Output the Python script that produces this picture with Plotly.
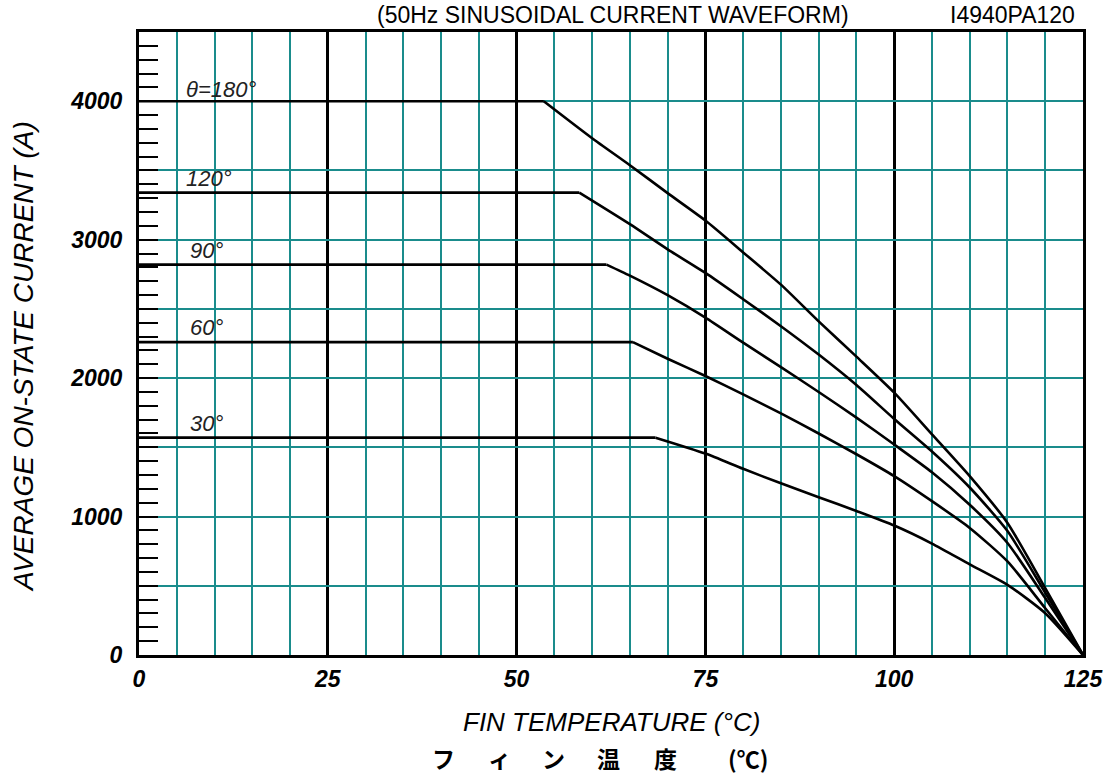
import plotly.graph_objects as go

# ---- data ----
temp_180 = [0, 53.6, 60, 65, 70, 75, 80, 85, 90, 95, 100, 105, 110, 115, 120, 125]
cur_180 = [4000, 4000, 3733, 3538, 3336, 3138, 2908, 2675, 2410, 2155, 1895, 1594, 1292, 954, 483, 0]

temp_120 = [0, 58.3, 65, 70, 75, 80, 85, 90, 95, 100, 105, 110, 115, 120, 125]
cur_120 = [3340, 3340, 3112, 2930, 2760, 2570, 2375, 2170, 1950, 1705, 1470, 1210, 895, 450, 0]

temp_90 = [0, 61.9, 65, 70, 75, 80, 85, 90, 95, 100, 105, 110, 115, 120, 125]
cur_90 = [2820, 2820, 2740, 2599, 2437, 2256, 2080, 1900, 1715, 1520, 1320, 1085, 809, 411, 0]

temp_60 = [0, 65.4, 70, 75, 80, 85, 90, 95, 100, 105, 110, 115, 120, 125]
cur_60 = [2260, 2260, 2140, 2015, 1882, 1745, 1600, 1450, 1292, 1111, 918, 676, 338, 0]

temp_30 = [0, 68.4, 75, 80, 85, 90, 95, 100, 105, 110, 115, 120, 125]
cur_30 = [1570, 1570, 1455, 1345, 1240, 1140, 1040, 935, 805, 655, 507, 302, 0]

series_labels = ["θ=180°", "120°", "90°", "60°", "30°"]
label_x = [6.0, 6.0, 6.5, 6.5, 6.5]
label_y = [4087, 3444, 2924, 2368, 1675]

x_ticks = [0, 25, 50, 75, 100, 125]
y_tickvals = [0, 500, 1000, 1500, 2000, 2500, 3000, 3500, 4000, 4500]
y_ticktext = ["0", "", "1000", "", "2000", "", "3000", "", "4000", ""]

TEAL = "#1a8c8c"
FONT = "Liberation Sans, Arial, sans-serif"

fig = go.Figure()
for tx, cy in [(temp_180, cur_180), (temp_120, cur_120), (temp_90, cur_90),
               (temp_60, cur_60), (temp_30, cur_30)]:
    # flat (rated) segment
    fig.add_trace(go.Scatter(x=tx[:2], y=cy[:2], mode="lines",
                             line=dict(color="black", width=2.6),
                             showlegend=False, hoverinfo="skip"))
    # derating curve
    fig.add_trace(go.Scatter(x=tx[1:], y=cy[1:], mode="lines",
                             line=dict(color="black", width=2.6, shape="spline", smoothing=0.6),
                             showlegend=False, hoverinfo="skip"))

for txt, lx, ly in zip(series_labels, label_x, label_y):
    fig.add_annotation(x=lx, y=ly, xref="x", yref="y", text=txt, showarrow=False,
                       xanchor="left", yanchor="middle",
                       font=dict(family=FONT, size=22, color="#222", style="italic"))

fig.update_layout(
    width=1115, height=780,
    margin=dict(l=139, r=29, t=32, b=125),
    paper_bgcolor="white", plot_bgcolor="white",
    xaxis=dict(
        range=[0, 125], tickmode="array", tickvals=x_ticks,
        ticktext=[str(v) for v in x_ticks],
        showgrid=True, gridcolor="black", gridwidth=3,
        minor=dict(dtick=5, tick0=0, showgrid=True, gridcolor=TEAL, gridwidth=1.6, ticks=""),
        ticks="", showline=True, linecolor="black", linewidth=3, mirror=True,
        zeroline=False, ticklabelstandoff=1,
        tickfont=dict(family=FONT, size=23, color="black", style="italic", weight="bold"),
    ),
    yaxis=dict(
        range=[0, 4500], tickmode="array", tickvals=y_tickvals, ticktext=y_ticktext,
        showgrid=True, gridcolor=TEAL, gridwidth=1.6,
        ticks="inside", ticklen=19, tickwidth=1.6, tickcolor="black",
        minor=dict(tickmode="linear", dtick=100, tick0=0, ticks="inside", ticklen=19,
                   tickwidth=1.6, tickcolor="black", showgrid=False),
        showline=True, linecolor="black", linewidth=3, mirror=True,
        zeroline=False, ticklabelstandoff=9,
        tickfont=dict(family=FONT, size=23, color="black", style="italic", weight="bold"),
    ),
)

# titles
fig.add_annotation(xref="paper", yref="paper", x=0.5016, y=1.0, yshift=17,
                   text="(50Hz SINUSOIDAL CURRENT WAVEFORM)", showarrow=False,
                   xanchor="center", yanchor="middle",
                   font=dict(family=FONT, size=23, color="black"))
fig.add_annotation(xref="paper", yref="paper", x=1.0, y=1.0, yshift=17, xshift=-6,
                   text="I4940PA120", showarrow=False,
                   xanchor="right", yanchor="middle",
                   font=dict(family=FONT, size=23, color="black"))
fig.add_annotation(xref="paper", yref="paper", x=(613 - 139) / 947, y=0, yshift=-67,
                   text="FIN TEMPERATURE (°C)", showarrow=False,
                   xanchor="center", yanchor="middle",
                   font=dict(family=FONT, size=26, color="black", style="italic"))
fig.add_annotation(xref="paper", yref="paper", x=0, xshift=-116, y=(655 - 357) / 623,
                   text="AVERAGE ON-STATE CURRENT (A)", showarrow=False, textangle=-90,
                   xanchor="center", yanchor="middle",
                   font=dict(family=FONT, size=28, color="black", style="italic"))

jp_chars = ["フ", "ィ", "ン", "温", "度", "(℃)"]
jp_px = [444, 501, 555, 610, 667, 750]
for ch, px in zip(jp_chars, jp_px):
    fig.add_annotation(xref="paper", yref="paper", x=(px - 139) / (1086 - 139), y=0,
                       yshift=-103, text=ch, showarrow=False,
                       xanchor="center", yanchor="middle",
                       font=dict(family="Noto Sans CJK JP", size=23, color="black", weight="bold"))

fig.write_html("out.html")
